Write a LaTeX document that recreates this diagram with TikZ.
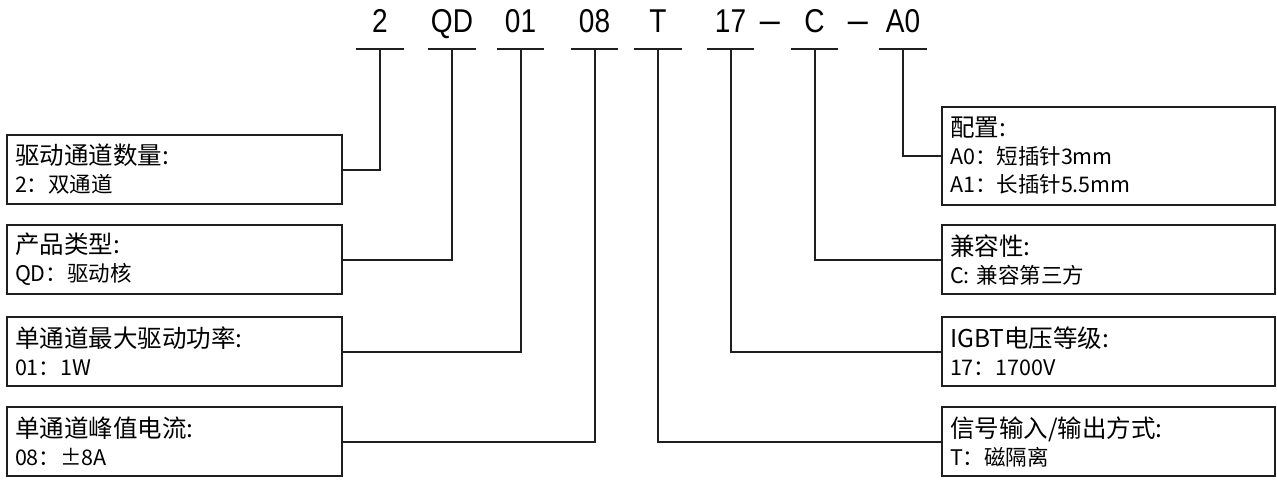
\documentclass[tikz,border=0pt]{standalone}
\usepackage{fontspec}
\setmainfont{Noto Sans CJK SC}
\newfontfamily\codefont[FakeStretch=0.85]{Liberation Sans}
\newfontfamily\dashfont{Liberation Sans}
\usetikzlibrary{positioning}
\colorlet{lineC}{black!88}
\newcommand{\boxtitle}[1]{{\fontsize{24.5}{28}\selectfont #1}}

\begin{document}
\begin{tikzpicture}[x=1pt, y=-1pt,
    code/.style={font=\codefont\fontsize{33}{33}\selectfont, inner sep=0pt,
      minimum width=47pt, text height=23pt, text depth=16pt, anchor=south},
    infobox/.style={draw=lineC, line width=2pt, minimum height=69pt,
      inner xsep=8pt, inner ysep=0pt, align=left, anchor=north west,
      font=\fontsize{21.5}{28}\selectfont},
    leftbox/.style={infobox, text width=319pt},
    rightbox/.style={infobox, text width=317pt},
    link/.style={lineC, line width=2pt}]
  \useasboundingbox (0,0) rectangle (1277,483);
  % Model code
  \node[code] (k2)  at (380,49)   {2};
  \node[code] (kQD) at (452,49)   {QD};
  \node[code] (k01) at (520.5,49) {01};
  \node[code] (k08) at (594.5,49) {08};
  \node[code] (kT)  at (658,49)   {T};
  \node[code] (k17) at (730.5,49) {17};
  \node[code, font=\dashfont\fontsize{36}{36}\selectfont, minimum width=0pt] (d1) at (770,49) {–};
  \node[code] (kC)  at (814.5,49) {C};
  \node[code, font=\dashfont\fontsize{36}{36}\selectfont, minimum width=0pt] (d2) at (858,49) {–};
  \node[code] (kA0) at (903,49)   {A0};
  % Underlines
  \foreach \k in {k2,kQD,k01,k08,kT,k17,kC,kA0}
    \draw[link] (\k.south west) -- (\k.south east);
  % Left boxes
  \node[leftbox] (b1) at (6,134) {\boxtitle{驱动通道数量:}\\2：双通道};
  \node[leftbox] (b2) at (6,224) {\boxtitle{产品类型:}\\QD：驱动核};
  \node[leftbox] (b3) at (6,316) {\boxtitle{单通道最大驱动功率:}\\01：1W};
  \node[leftbox] (b4) at (6,406) {\boxtitle{单通道峰值电流:}\\08：±8A};
  % Right boxes
  \node[rightbox, minimum height=98pt] (bA) at (941,106)
    {\boxtitle{配置:}\\A0：短插针3mm\\A1：长插针5.5mm};
  \node[rightbox] (bB) at (941,224) {\boxtitle{兼容性:}\\C: 兼容第三方};
  \node[rightbox] (bC) at (941,316) {\boxtitle{IGBT电压等级:}\\17：1700V};
  \node[rightbox] (bD) at (941,406) {\boxtitle{信号输入/输出方式:}\\T：磁隔离};
  % Connectors
  \draw[link] (k2.south)  |- (b1.east);
  \draw[link] (kQD.south) |- (b2.east);
  \draw[link] (k01.south) |- (b3.east);
  \draw[link] (k08.south) |- (b4.east);
  \draw[link] (kT.south)  |- (bD.west);
  \draw[link] (k17.south) |- (bC.west);
  \draw[link] (kC.south)  |- (bB.west);
  \draw[link] (kA0.south) |- (bA.west);
\end{tikzpicture}
\end{document}
